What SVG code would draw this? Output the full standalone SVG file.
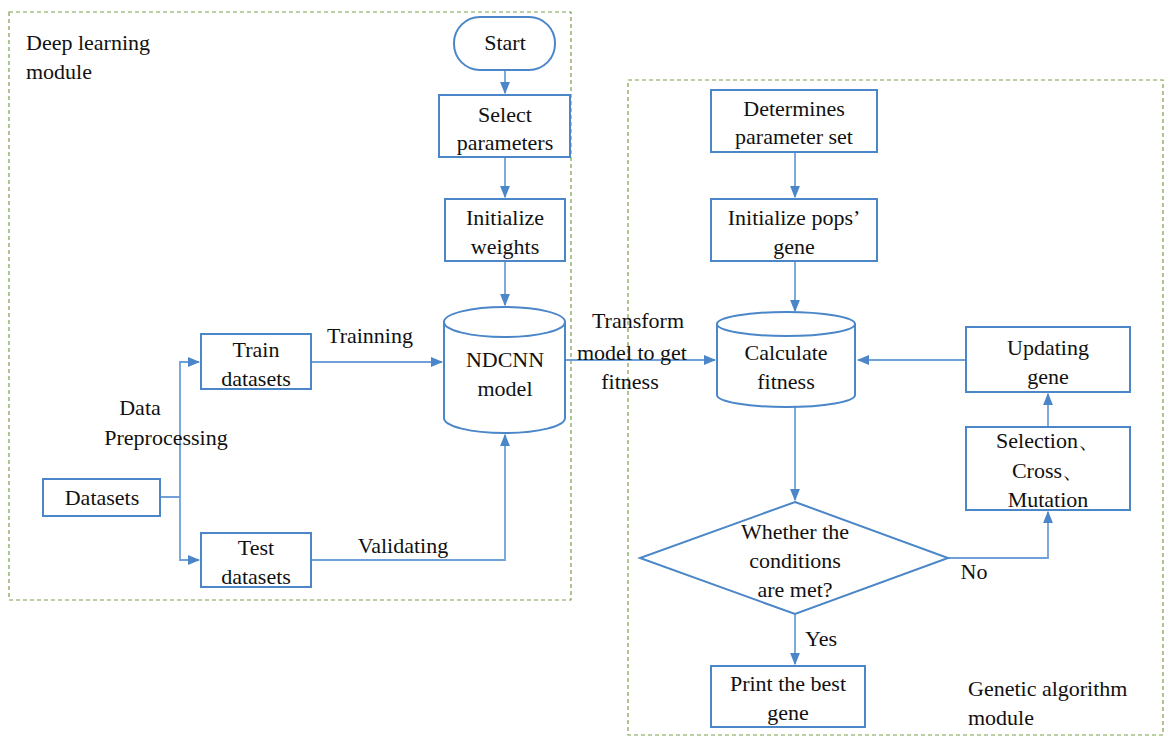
<svg xmlns="http://www.w3.org/2000/svg" width="1170" height="743" viewBox="0 0 1170 743">
<style>
text{font-family:"Liberation Serif",serif;font-size:22px;fill:#111;text-anchor:middle}
.l{text-anchor:start}
.n{fill:#fff;stroke:#4a86c8;stroke-width:2}
.c{fill:none;stroke:#6fa0d8;stroke-width:1.8}
.m{fill:none;stroke:#7a9e4a;stroke-width:1.2;stroke-dasharray:4 3}
</style>
<defs><marker id="a" viewBox="0 0 10 10" refX="9" refY="5" markerWidth="7" markerHeight="7" orient="auto"><path d="M0,1L10,5L0,9z" fill="#4a86c8"/></marker></defs>
<rect class="m" x="9" y="12" width="562" height="588"/>
<rect class="m" x="628" y="80" width="535" height="655"/>
<text class="l" x="26" y="50">Deep learning</text><text class="l" x="26" y="79">module</text>
<text class="l" x="968" y="696">Genetic algorithm</text><text class="l" x="968" y="725">module</text>
<g id="connectors" class="c" marker-end="url(#a)">
<path d="M505,70V93"/><path d="M505,157V197"/><path d="M505,261V305"/>
<path d="M160,497H180V362H199"/><path d="M180,497V560H199"/>
<path d="M311,362H442"/><path d="M311,560H505V435"/>
<path d="M565,360H715"/>
<path d="M795,152V197"/><path d="M795,261V311"/><path d="M795,406V500"/>
<path d="M795,614V664"/>
<path d="M948,558H1048V512"/><path d="M1048,427V394"/><path d="M966,360H858"/>
</g>
<text x="370" y="343">Trainning</text><text x="403" y="553">Validating</text>
<text x="638" y="328">Transform</text><text x="632" y="360">model to get</text><text x="630" y="389">fitness</text>
<text x="974" y="579">No</text><text x="821" y="646">Yes</text>
<text x="140" y="415">Data</text><text x="166" y="445">Preprocessing</text>
<g id="start"><rect class="n" x="454" y="17" width="101" height="53" rx="26"/><text x="505" y="50">Start</text></g>
<g id="select"><rect class="n" x="439" y="95" width="131" height="62"/><text x="505" y="122">Select</text><text x="505" y="150">parameters</text></g>
<g id="initw"><rect class="n" x="445" y="199" width="120" height="62"/><text x="505" y="225">Initialize</text><text x="505" y="254">weights</text></g>
<g id="ndcnn"><path class="n" d="M444,322A60.5,15 0 0 1 565,322V418A60.5,15 0 0 1 444,418Z"/><path class="n" d="M444,322A60.5,15 0 0 0 565,322"/><text x="505" y="367">NDCNN</text><text x="505" y="396">model</text></g>
<g id="train"><rect class="n" x="201" y="334" width="110" height="55"/><text x="256" y="357">Train</text><text x="256" y="386">datasets</text></g>
<g id="test"><rect class="n" x="201" y="533" width="110" height="54"/><text x="256" y="555">Test</text><text x="256" y="584">datasets</text></g>
<g id="datasets"><rect class="n" x="43" y="479" width="117" height="37"/><text x="102" y="505">Datasets</text></g>
<g id="determ"><rect class="n" x="711" y="90" width="166" height="62"/><text x="794" y="116">Determines</text><text x="794" y="144">parameter set</text></g>
<g id="initp"><rect class="n" x="711" y="199" width="166" height="62"/><text x="794" y="225">Initialize pops’</text><text x="794" y="254">gene</text></g>
<g id="calc"><path class="n" d="M717,324A69,12 0 0 1 855,324V395A69,12 0 0 1 717,395Z"/><path class="n" d="M717,324A69,12 0 0 0 855,324"/><text x="786" y="360">Calculate</text><text x="786" y="389">fitness</text></g>
<g id="update"><rect class="n" x="966" y="327" width="164" height="65"/><text x="1048" y="355">Updating</text><text x="1048" y="384">gene</text></g>
<g id="sel"><rect class="n" x="966" y="427" width="164" height="83"/><text x="1048" y="448">Selection、</text><text x="1048" y="478">Cross、</text><text x="1048" y="507">Mutation</text></g>
<g id="cond"><path class="n" d="M795,502L948,558L795,614L640,558Z"/><text x="795" y="539">Whether the</text><text x="795" y="568">conditions</text><text x="795" y="597">are met?</text></g>
<g id="print"><rect class="n" x="711" y="666" width="154" height="61"/><text x="788" y="691">Print the best</text><text x="788" y="720">gene</text></g>
</svg>
